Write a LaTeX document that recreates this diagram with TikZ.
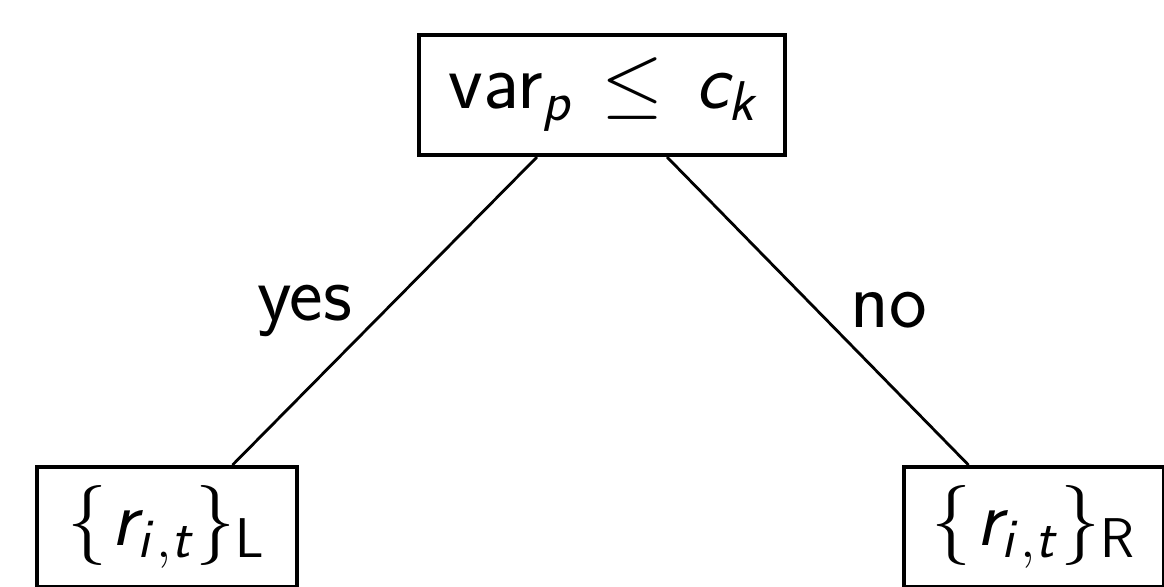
\RequirePackage{fix-cm}
\documentclass[tikz,border=0pt]{standalone}
\usepackage{amsmath}
\newcommand\sv[1]{\text{\sffamily\slshape #1}}
\newcommand\su[1]{\text{\sffamily #1}}
\begin{document}
\begin{tikzpicture}[x=0.5pt,y=-0.5pt,
  box/.style={draw, line width=2pt, inner sep=0pt, minimum height=60pt,
    font=\fontsize{40}{48}\selectfont\sffamily},
  edge/.style={line width=1.4pt},
  lbl/.style={font=\fontsize{40}{48}\selectfont\sffamily, inner sep=0pt, anchor=base west}]
\useasboundingbox (0,0) rectangle (1164,586);
\clip (0,0) rectangle (1164,586);
\node[box, minimum width=183pt] (top) at (602,95) {$\su{var}_{\sv{p}} \mkern2mu\leq\mkern2mu \sv{c}_{\sv{k}}$};
\node[box, minimum width=130pt] (L) at (166.5,527) {$\{\mkern1mu\sv{r}_{\sv{i}\mkern2mu,\sv{t}}\mkern1mu\}_{\su{L}}$};
\node[box, minimum width=130pt] (R) at (1033.5,527) {$\{\mkern1mu\sv{r}_{\sv{i}\mkern2mu,\sv{t}}\mkern1mu\}_{\su{R}}$};
\draw[edge] ([xshift=-32.5pt]top.south) -- ([xshift=33pt]L.north);
\draw[edge] ([xshift=32.5pt]top.south) -- ([xshift=-32.5pt]R.north);
\node[lbl] (yes) at (257,320) {yes};
\node[lbl] (no) at (850,327) {no};
\end{tikzpicture}
\end{document}
